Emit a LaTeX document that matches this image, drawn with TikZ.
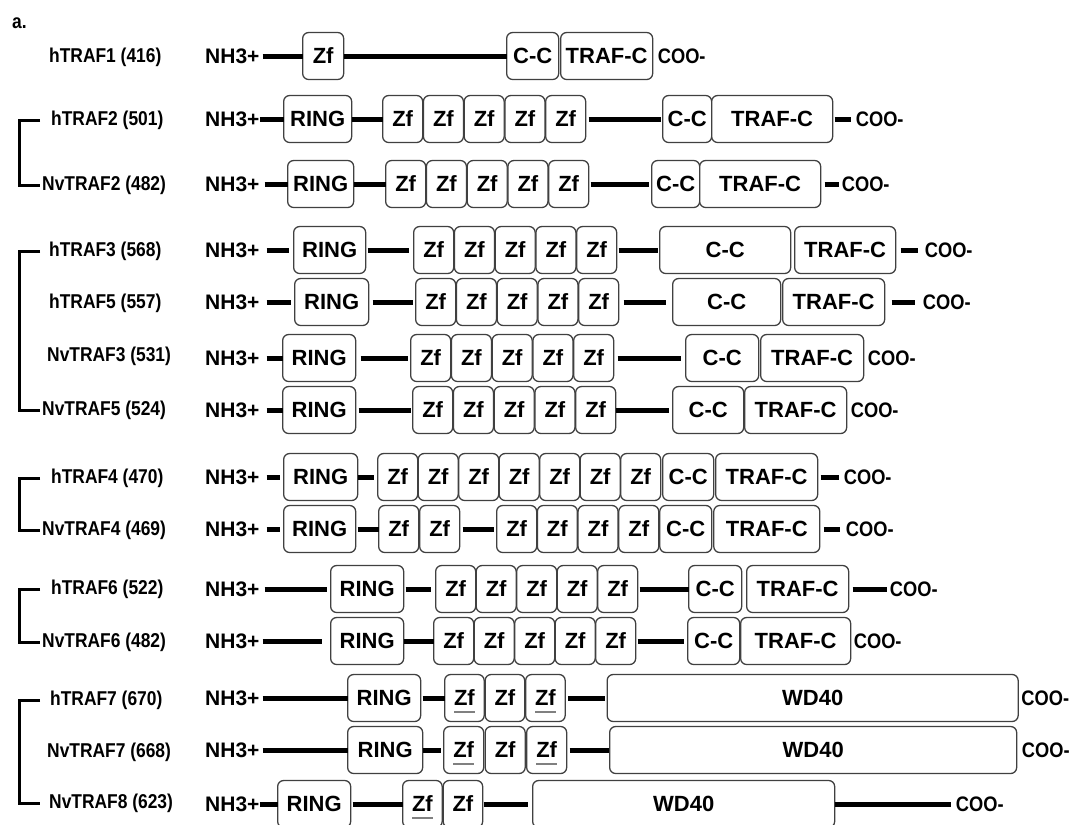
\documentclass[tikz,border=0pt]{standalone}
\usepackage{fontspec}
\setmainfont{Liberation Sans}
\newfontfamily\narrowsf{Liberation Sans}[FakeStretch=0.87]
\usetikzlibrary{positioning}
\newcommand\boxfont{\fontsize{22}{25}\selectfont\bfseries}
\newcommand\nhfont{\fontsize{21}{24}\selectfont\bfseries}
\newcommand\namefont{\narrowsf\fontsize{20}{24}\selectfont\bfseries}
\newcommand\tailfont{\narrowsf\fontsize{21}{24}\selectfont\bfseries}
\newsavebox\zfbox
\newcommand\zfu{\sbox\zfbox{Zf}\smash{\rlap{\color{black!50}\rule[-7pt]{\wd\zfbox}{2pt}}}\usebox\zfbox}
\begin{document}
\begin{tikzpicture}[
  x=1pt, y=-1pt,
  dom/.style={draw=black!75, line width=1.3pt, rounded corners=6pt, fill=white, minimum height=47pt, inner sep=0pt, outer sep=0pt, font=\boxfont},
  zf/.style={dom, minimum width=40pt},
  term/.style={inner sep=0pt, font=\nhfont},
  cterm/.style={inner sep=0pt, font=\tailfont},
  plabel/.style={anchor=west, inner sep=0pt, font=\namefont},
  link/.style={line width=5pt},
  tie/.style={line width=3pt}
]
\useasboundingbox (0,0) rectangle (1072,825);
\node[plabel] (tag) at (12,23) {a.};

\node[plabel] (h1l) at (49,57) {hTRAF1 (416)};
\node[term, anchor=west] (h1n) at (205,56) {NH3+};
\node[dom, minimum width=41pt] (h1z) [right=43pt of h1n] {Zf};
\node[dom, minimum width=52pt] (h1c) [right=163pt of h1z] {C-C};
\node[dom, minimum width=92pt] (h1t) [right=2pt of h1c] {TRAF-C};
\node[cterm] (h1o) [right=5pt of h1t] {COO-};
\draw[link, shorten <=3pt] (h1n) -- (h1z);
\draw[link] (h1z) -- (h1c);

\node[plabel] (h2l) at (51,120) {hTRAF2 (501)};
\node[term, anchor=west] (h2n) at (205,119) {NH3+};
\node[dom, minimum width=68pt] (h2r) [right=24pt of h2n] {RING};
\node[zf] (h2z1) [right=31pt of h2r] {Zf};
\node[zf] (h2z2) [right=0.75pt of h2z1] {Zf};
\node[zf] (h2z3) [right=0.75pt of h2z2] {Zf};
\node[zf] (h2z4) [right=0.75pt of h2z3] {Zf};
\node[zf] (h2z5) [right=0.75pt of h2z4] {Zf};
\node[dom, minimum width=49pt] (h2c) [right=77pt of h2z5] {C-C};
\node[dom, minimum width=121pt] (h2t) [right=0pt of h2c] {TRAF-C};
\node[cterm] (h2o) [right=23pt of h2t] {COO-};
\draw[link] (h2n) -- (h2r);
\draw[link] (h2r) -- (h2z1);
\draw[link, shorten <=3pt, shorten >=2pt] (h2z5) -- (h2c);
\draw[link, shorten <=2pt, shorten >=5pt] (h2t) -- (h2o);

\node[plabel] (v2l) at (42,185) {NvTRAF2 (482)};
\node[term, anchor=west] (v2n) at (205,184) {NH3+};
\node[dom, minimum width=66pt] (v2r) [right=28pt of v2n] {RING};
\node[zf] (v2z1) [right=32pt of v2r] {Zf};
\node[zf] (v2z2) [right=0.75pt of v2z1] {Zf};
\node[zf] (v2z3) [right=0.75pt of v2z2] {Zf};
\node[zf] (v2z4) [right=0.75pt of v2z3] {Zf};
\node[zf] (v2z5) [right=0.75pt of v2z4] {Zf};
\node[dom, minimum width=48pt] (v2c) [right=63pt of v2z5] {C-C};
\node[dom, minimum width=121pt] (v2t) [right=0pt of v2c] {TRAF-C};
\node[cterm] (v2o) [right=21pt of v2t] {COO-};
\draw[link, shorten <=5pt] (v2n) -- (v2r);
\draw[link] (v2r) -- (v2z1);
\draw[link, shorten <=2pt, shorten >=3pt] (v2z5) -- (v2c);
\draw[link, shorten <=4pt, shorten >=3pt] (v2t) -- (v2o);

\node[plabel] (h3l) at (49,251) {hTRAF3 (568)};
\node[term, anchor=west] (h3n) at (205,250) {NH3+};
\node[dom, minimum width=72pt] (h3r) [right=34pt of h3n] {RING};
\node[zf] (h3z1) [right=48pt of h3r] {Zf};
\node[zf] (h3z2) [right=0.75pt of h3z1] {Zf};
\node[zf] (h3z3) [right=0.75pt of h3z2] {Zf};
\node[zf] (h3z4) [right=0.75pt of h3z3] {Zf};
\node[zf] (h3z5) [right=0.75pt of h3z4] {Zf};
\node[dom, minimum width=131pt] (h3c) [right=43pt of h3z5] {C-C};
\node[dom, minimum width=101pt] (h3t) [right=4pt of h3c] {TRAF-C};
\node[cterm] (h3o) [right=29pt of h3t] {COO-};
\draw[link, shorten <=7pt, shorten >=5pt] (h3n) -- (h3r);
\draw[link, shorten <=2pt, shorten >=5pt] (h3r) -- (h3z1);
\draw[link, shorten <=2pt, shorten >=2pt] (h3z5) -- (h3c);
\draw[link, shorten <=5pt, shorten >=7pt] (h3t) -- (h3o);

\node[plabel] (h5l) at (49,303) {hTRAF5 (557)};
\node[term, anchor=west] (h5n) at (205,302) {NH3+};
\node[dom, minimum width=74pt] (h5r) [right=35pt of h5n] {RING};
\node[zf] (h5z1) [right=47pt of h5r] {Zf};
\node[zf] (h5z2) [right=0.75pt of h5z1] {Zf};
\node[zf] (h5z3) [right=0.75pt of h5z2] {Zf};
\node[zf] (h5z4) [right=0.75pt of h5z3] {Zf};
\node[zf] (h5z5) [right=0.75pt of h5z4] {Zf};
\node[dom, minimum width=108pt] (h5c) [right=54pt of h5z5] {C-C};
\node[dom, minimum width=102pt] (h5t) [right=2pt of h5c] {TRAF-C};
\node[cterm] (h5o) [right=38pt of h5t] {COO-};
\draw[link, shorten <=7pt, shorten >=4pt] (h5n) -- (h5r);
\draw[link, shorten <=4pt, shorten >=3pt] (h5r) -- (h5z1);
\draw[link, shorten <=5pt, shorten >=7pt] (h5z5) -- (h5c);
\draw[link, shorten <=7pt, shorten >=8pt] (h5t) -- (h5o);

\node[plabel] (v3l) at (47,356) {NvTRAF3 (531)};
\node[term, anchor=west] (v3n) at (205,358) {NH3+};
\node[dom, minimum width=73pt] (v3r) [right=23pt of v3n] {RING};
\node[zf] (v3z1) [right=55pt of v3r] {Zf};
\node[zf] (v3z2) [right=0.75pt of v3z1] {Zf};
\node[zf] (v3z3) [right=0.75pt of v3z2] {Zf};
\node[zf] (v3z4) [right=0.75pt of v3z3] {Zf};
\node[zf] (v3z5) [right=0.75pt of v3z4] {Zf};
\node[dom, minimum width=73pt] (v3c) [right=72pt of v3z5] {C-C};
\node[dom, minimum width=103pt] (v3t) [right=2pt of v3c] {TRAF-C};
\node[cterm] (v3o) [right=4pt of v3t] {COO-};
\draw[link, shorten <=7pt] (v3n) -- (v3r);
\draw[link, shorten <=5pt, shorten >=3pt] (v3r) -- (v3z1);
\draw[link, shorten <=4pt, shorten >=5pt] (v3z5) -- (v3c);

\node[plabel] (v5l) at (42,410) {NvTRAF5 (524)};
\node[term, anchor=west] (v5n) at (205,410) {NH3+};
\node[dom, minimum width=73pt] (v5r) [right=23pt of v5n] {RING};
\node[zf] (v5z1) [right=57pt of v5r] {Zf};
\node[zf] (v5z2) [right=0.75pt of v5z1] {Zf};
\node[zf] (v5z3) [right=0.75pt of v5z2] {Zf};
\node[zf] (v5z4) [right=0.75pt of v5z3] {Zf};
\node[zf] (v5z5) [right=0.75pt of v5z4] {Zf};
\node[dom, minimum width=71pt] (v5c) [right=57pt of v5z5] {C-C};
\node[dom, minimum width=102pt] (v5t) [right=1pt of v5c] {TRAF-C};
\node[cterm] (v5o) [right=4pt of v5t] {COO-};
\draw[link, shorten <=7pt] (v5n) -- (v5r);
\draw[link, shorten <=3pt, shorten >=2pt] (v5r) -- (v5z1);
\draw[link, shorten >=4pt] (v5z5) -- (v5c);

\node[plabel] (h4l) at (51,478) {hTRAF4 (470)};
\node[term, anchor=west] (h4n) at (205,477) {NH3+};
\node[dom, minimum width=74pt] (h4r) [right=24pt of h4n] {RING};
\node[zf] (h4z1) [right=20pt of h4r] {Zf};
\node[zf] (h4z2) [right=0.5pt of h4z1] {Zf};
\node[zf] (h4z3) [right=0.5pt of h4z2] {Zf};
\node[zf] (h4z4) [right=0.5pt of h4z3] {Zf};
\node[zf] (h4z5) [right=0.5pt of h4z4] {Zf};
\node[zf] (h4z6) [right=0.5pt of h4z5] {Zf};
\node[zf] (h4z7) [right=0.5pt of h4z6] {Zf};
\node[dom, minimum width=51pt] (h4c) [right=2pt of h4z7] {C-C};
\node[dom, minimum width=102pt] (h4t) [right=2pt of h4c] {TRAF-C};
\node[cterm] (h4o) [right=26pt of h4t] {COO-};
\draw[link, shorten <=7pt, shorten >=4pt] (h4n) -- (h4r);
\draw[link, shorten >=4pt] (h4r) -- (h4z1);
\draw[link, shorten <=3pt, shorten >=5pt] (h4t) -- (h4o);

\node[plabel] (v4l) at (42,530) {NvTRAF4 (469)};
\node[term, anchor=west] (v4n) at (205,529) {NH3+};
\node[dom, minimum width=72pt] (v4r) [right=24pt of v4n] {RING};
\node[zf] (v4z1) [right=23pt of v4r] {Zf};
\node[zf] (v4z2) [right=1pt of v4z1] {Zf};
\node[zf] (v4z3) [right=37pt of v4z2] {Zf};
\node[zf] (v4z4) [right=0.7pt of v4z3] {Zf};
\node[zf] (v4z5) [right=0.7pt of v4z4] {Zf};
\node[zf] (v4z6) [right=0.7pt of v4z5] {Zf};
\node[dom, minimum width=52pt] (v4c) [right=1pt of v4z6] {C-C};
\node[dom, minimum width=106pt] (v4t) [right=2pt of v4c] {TRAF-C};
\node[cterm] (v4o) [right=26pt of v4t] {COO-};
\draw[link, shorten <=7pt, shorten >=4pt] (v4n) -- (v4r);
\draw[link, shorten <=2pt] (v4r) -- (v4z1);
\draw[link, shorten <=3pt, shorten >=3pt] (v4z2) -- (v4z3);
\draw[link, shorten <=4pt, shorten >=6pt] (v4t) -- (v4o);

\node[plabel] (h6l) at (51,589) {hTRAF6 (522)};
\node[term, anchor=west] (h6n) at (205,589) {NH3+};
\node[dom, minimum width=73pt] (h6r) [right=71pt of h6n] {RING};
\node[zf] (h6z1) [right=32pt of h6r] {Zf};
\node[zf] (h6z2) [right=0.5pt of h6z1] {Zf};
\node[zf] (h6z3) [right=0.5pt of h6z2] {Zf};
\node[zf] (h6z4) [right=0.5pt of h6z3] {Zf};
\node[zf] (h6z5) [right=0.5pt of h6z4] {Zf};
\node[dom, minimum width=53pt] (h6c) [right=51pt of h6z5] {C-C};
\node[dom, minimum width=102pt] (h6t) [right=5pt of h6c] {TRAF-C};
\node[cterm] (h6o) [right=41pt of h6t] {COO-};
\draw[link, shorten <=5pt, shorten >=4pt] (h6n) -- (h6r);
\draw[link, shorten <=2pt, shorten >=5pt] (h6r) -- (h6z1);
\draw[link, shorten <=2pt] (h6z5) -- (h6c);
\draw[link, shorten <=4pt, shorten >=3pt] (h6t) -- (h6o);

\node[plabel] (v6l) at (42,642) {NvTRAF6 (482)};
\node[term, anchor=west] (v6n) at (205,641) {NH3+};
\node[dom, minimum width=73pt] (v6r) [right=71pt of v6n] {RING};
\node[zf] (v6z1) [right=30pt of v6r] {Zf};
\node[zf] (v6z2) [right=0.5pt of v6z1] {Zf};
\node[zf] (v6z3) [right=0.5pt of v6z2] {Zf};
\node[zf] (v6z4) [right=0.5pt of v6z3] {Zf};
\node[zf] (v6z5) [right=0.5pt of v6z4] {Zf};
\node[dom, minimum width=52pt] (v6c) [right=52pt of v6z5] {C-C};
\node[dom, minimum width=110pt] (v6t) [right=1pt of v6c] {TRAF-C};
\node[cterm] (v6o) [right=3pt of v6t] {COO-};
\draw[link, shorten <=3pt, shorten >=9pt] (v6n) -- (v6r);
\draw[link] (v6r) -- (v6z1);
\draw[link, shorten <=2pt, shorten >=4pt] (v6z5) -- (v6c);

\node[plabel] (h7l) at (50,700) {hTRAF7 (670)};
\node[term, anchor=west] (h7n) at (205,698) {NH3+};
\node[dom, minimum width=73pt] (h7r) [right=88pt of h7n] {RING};
\node[zf, minimum width=39.5pt] (h7z1) [right=24pt of h7r] {\zfu};
\node[zf, minimum width=39.5pt] (h7z2) [right=1pt of h7z1] {Zf};
\node[zf, minimum width=39.5pt] (h7z3) [right=1pt of h7z2] {\zfu};
\node[dom, minimum width=411pt] (h7w) [right=42pt of h7z3] {WD40};
\node[cterm] (h7o) [right=3pt of h7w] {COO-};
\draw[link, shorten <=3pt] (h7n) -- (h7r);
\draw[link, shorten <=2pt] (h7r) -- (h7z1);
\draw[link, shorten <=3pt, shorten >=2pt] (h7z3) -- (h7w);

\node[plabel] (v7l) at (47,752) {NvTRAF7 (668)};
\node[term, anchor=west] (v7n) at (205,750) {NH3+};
\node[dom, minimum width=75pt] (v7r) [right=88pt of v7n] {RING};
\node[zf] (v7z1) [right=21pt of v7r] {\zfu};
\node[zf] (v7z2) [right=1.5pt of v7z1] {Zf};
\node[zf] (v7z3) [right=1.5pt of v7z2] {\zfu};
\node[dom, minimum width=407pt] (v7w) [right=43pt of v7z3] {WD40};
\node[cterm] (v7o) [right=5pt of v7w] {COO-};
\draw[link, shorten <=3pt] (v7n) -- (v7r);
\draw[link, shorten >=3pt] (v7r) -- (v7z1);
\draw[link, shorten <=3pt, shorten >=1pt] (v7z3) -- (v7w);

\node[plabel] (v8l) at (49,803) {NvTRAF8 (623)};
\node[term, anchor=west] (v8n) at (205,804) {NH3+};
\node[dom, minimum width=73pt] (v8r) [right=18pt of v8n] {RING};
\node[zf, minimum width=39.5pt] (v8z1) [right=52pt of v8r] {\zfu};
\node[zf, minimum width=39.5pt] (v8z2) [right=1pt of v8z1] {Zf};
\node[dom, minimum width=302pt] (v8w) [right=50pt of v8z2] {WD40};
\node[cterm] (v8o) [right=121pt of v8w] {COO-};
\draw[link] (v8n) -- (v8r);
\draw[link, shorten <=2pt] (v8r) -- (v8z1);
\draw[link, shorten <=1pt, shorten >=5pt] (v8z2) -- (v8w);
\draw[link, shorten >=5pt] (v8w) -- (v8o);

\draw[tie] ([xshift=-11pt]h2l.west) -- ++(-21pt,0) |- ([xshift=-2pt]v2l.west);
\draw[tie] ([xshift=-9pt]h3l.west) -- ++(-21pt,0) |- ([xshift=-2pt]v5l.west);
\draw[tie] ([xshift=-11pt]h4l.west) -- ++(-21pt,0) |- ([xshift=-2pt]v4l.west);
\draw[tie] ([xshift=-11pt]h6l.west) -- ++(-21pt,0) |- ([xshift=-2pt]v6l.west);
\draw[tie] ([xshift=-10pt]h7l.west) -- ++(-21pt,0) |- ([xshift=-9pt]v8l.west);
\end{tikzpicture}
\end{document}
